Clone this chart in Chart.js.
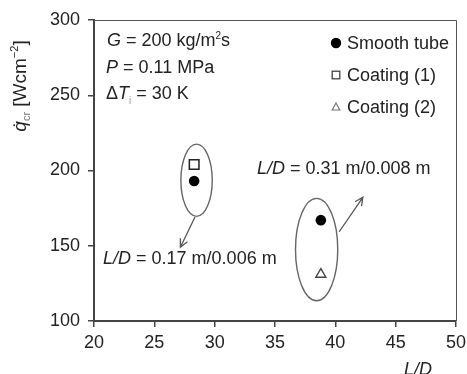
<!DOCTYPE html>
<html><head><meta charset="utf-8">
<script src="https://cdn.jsdelivr.net/npm/chart.js@4.4.1/dist/chart.umd.min.js"></script>
<style>html,body{margin:0;padding:0;background:#fff}canvas{display:block}</style>
</head><body>
<canvas id="c" width="467" height="374"></canvas>
<script>
// ---- data ----
const seriesNames = ['Smooth tube', 'Coating (1)', 'Coating (2)'];
const smoothLD = [28.3, 38.8];
const smoothQ = [193, 167];
const coating1LD = [28.3];
const coating1Q = [204];
const coating2LD = [38.8];
const coating2Q = [131];
const xTicks = [20, 25, 30, 35, 40, 45, 50];
const yTicks = [100, 150, 200, 250, 300];
// annotation groups (data units): centre L/D, centre q, half-width, half-height
const groupCx = [28.5, 38.45];
const groupCy = [193.5, 147.5];
const groupRx = [1.3, 1.75];
const groupRy = [24, 34];
// arrows (data units)
const arrowFromX = [28.37, 40.32], arrowFromY = [169.1, 159.3];
const arrowToX = [27.16, 42.28], arrowToY = [149.0, 182.2];

const FONT = "'Liberation Sans', Arial, sans-serif";
const TXT = '#222';

function pts(xs, ys) { return xs.map((x, i) => ({ x, y: ys[i] })); }

function drawRich(ctx, x, y, segs, align) {
  // segs: [text, size, italic, dy, color]
  let w = 0;
  segs.forEach(s => { ctx.font = (s[2] ? 'italic ' : '') + s[1] + 'px ' + FONT; w += ctx.measureText(s[0]).width; });
  let cx = align === 'center' ? x - w / 2 : x;
  ctx.textBaseline = 'alphabetic'; ctx.textAlign = 'left';
  segs.forEach(s => {
    ctx.font = (s[2] ? 'italic ' : '') + s[1] + 'px ' + FONT;
    ctx.fillStyle = s[4] || TXT;
    ctx.fillText(s[0], cx, y + (s[3] || 0));
    cx += ctx.measureText(s[0]).width;
  });
}

const decor = {
  id: 'decor',
  afterDraw(chart) {
    const ctx = chart.ctx, a = chart.chartArea, xs = chart.scales.x, ys = chart.scales.y;
    ctx.save();
    // top & right frame
    ctx.strokeStyle = '#555'; ctx.lineWidth = 1;
    ctx.beginPath();
    ctx.moveTo(a.left, a.top + 0.5); ctx.lineTo(a.right + 0.5, a.top + 0.5); ctx.lineTo(a.right + 0.5, a.bottom);
    ctx.stroke();
    // ellipses
    ctx.strokeStyle = '#666'; ctx.lineWidth = 1.4;
    groupCx.forEach((cx, i) => {
      const px = xs.getPixelForValue(cx), py = ys.getPixelForValue(groupCy[i]);
      const rx = Math.abs(xs.getPixelForValue(cx + groupRx[i]) - px);
      const ry = Math.abs(ys.getPixelForValue(groupCy[i] + groupRy[i]) - py);
      ctx.beginPath(); ctx.ellipse(px, py, rx, ry, 0, 0, Math.PI * 2); ctx.stroke();
    });
    // arrows
    ctx.strokeStyle = '#555'; ctx.lineWidth = 1.3;
    arrowFromX.forEach((fx, i) => {
      const x1 = xs.getPixelForValue(fx), y1 = ys.getPixelForValue(arrowFromY[i]);
      const x2 = xs.getPixelForValue(arrowToX[i]), y2 = ys.getPixelForValue(arrowToY[i]);
      const ang = Math.atan2(y2 - y1, x2 - x1), L = 9, sp = 0.45;
      ctx.beginPath(); ctx.moveTo(x1, y1); ctx.lineTo(x2, y2);
      ctx.moveTo(x2 - L * Math.cos(ang - sp), y2 - L * Math.sin(ang - sp));
      ctx.lineTo(x2, y2);
      ctx.lineTo(x2 - L * Math.cos(ang + sp), y2 - L * Math.sin(ang + sp));
      ctx.stroke();
    });
    // condition text
    drawRich(ctx, a.left + 13, a.top + 26, [['G', 18, true], [' = 200 kg/m', 18], ['2', 10, false, -7], ['s', 18]]);
    drawRich(ctx, a.left + 12, a.top + 53, [['P', 18, true], [' = 0.11 MPa', 18]]);
    drawRich(ctx, a.left + 12, a.top + 79, [['Δ', 18], ['T', 18, true], ['i', 10, false, 5, '#999'], [' = 30 K', 18]]);
    // L/D labels
    drawRich(ctx, xs.getPixelForValue(20.75), ys.getPixelForValue(137.7), [['L/D', 18, true], [' = 0.17 m/0.006 m', 18]]);
    drawRich(ctx, xs.getPixelForValue(33.5), ys.getPixelForValue(197.5), [['L/D', 18, true], [' = 0.31 m/0.008 m', 18]]);
    // legend
    const lx = a.right - 120, ly = [a.top + 23, a.top + 55, a.top + 87];
    ctx.fillStyle = '#000';
    ctx.beginPath(); ctx.arc(lx, ly[0], 5.2, 0, Math.PI * 2); ctx.fill();
    ctx.strokeStyle = '#333'; ctx.lineWidth = 1.2;
    ctx.strokeRect(lx - 3.8, ly[1] - 3.8, 7.6, 7.6);
    ctx.strokeStyle = '#777'; ctx.lineWidth = 1.2;
    ctx.beginPath(); ctx.moveTo(lx, ly[2] - 4); ctx.lineTo(lx + 3.8, ly[2] + 3); ctx.lineTo(lx - 3.8, ly[2] + 3); ctx.closePath(); ctx.stroke();
    seriesNames.forEach((n, i) => drawRich(ctx, lx + 11, ly[i] + 6, [[n, 18]]));
    // y-axis title (rotated)
    ctx.save();
    ctx.translate(26, 86); ctx.rotate(-Math.PI / 2);
    drawRich(ctx, 0, 0, [['q\u0307', 19, true], ['cr', 11, false, 4, '#777'], [' [Wcm', 19], ['\u22122', 11, false, -8], [']', 19]], 'center');
    ctx.restore();
    // x-axis title
    drawRich(ctx, 418, 375, [['L/D', 18, true]], 'center');
    ctx.restore();
  }
};

new Chart(document.getElementById('c'), {
  type: 'scatter',
  data: {
    datasets: [
      { label: seriesNames[0], data: pts(smoothLD, smoothQ), pointStyle: 'circle', pointRadius: 5.3, backgroundColor: '#000', borderColor: '#000', borderWidth: 0 },
      { label: seriesNames[1], data: pts(coating1LD, coating1Q), pointStyle: 'rect', pointRadius: 6.8, backgroundColor: '#fff', borderColor: '#222', borderWidth: 1.5 },
      { label: seriesNames[2], data: pts(coating2LD, coating2Q), pointStyle: 'triangle', pointRadius: 5.8, backgroundColor: '#fff', borderColor: '#444', borderWidth: 1.4 }
    ]
  },
  options: {
    responsive: false, animation: false, devicePixelRatio: 1,
    layout: { padding: { top: 20, right: 11, left: 0, bottom: 0 } },
    plugins: { legend: { display: false }, tooltip: { enabled: false } },
    scales: {
      x: {
        type: 'linear', min: 20, max: 50,
        afterBuildTicks: s => { s.ticks = xTicks.map(v => ({ value: v })); },
        afterFit: s => { s.height = 53; s.paddingLeft = 0; s.paddingRight = 0; },
        ticks: { font: { family: FONT, size: 18 }, color: TXT, padding: 5, maxRotation: 0 },
        grid: { drawOnChartArea: false, drawTicks: true, tickLength: 6, color: '#444', lineWidth: 1.5 },
        border: { display: true, color: '#444', width: 2 }
      },
      y: {
        type: 'linear', min: 100, max: 300,
        afterBuildTicks: s => { s.ticks = yTicks.map(v => ({ value: v })); },
        afterFit: s => { s.width = 94; s.paddingTop = 0; s.paddingBottom = 0; },
        ticks: { font: { family: FONT, size: 18 }, color: TXT, padding: 8 },
        grid: { drawOnChartArea: false, drawTicks: true, tickLength: 6, color: '#444', lineWidth: 1.5 },
        border: { display: true, color: '#444', width: 2 }
      }
    }
  },
  plugins: [decor]
});
</script>
</body></html>
